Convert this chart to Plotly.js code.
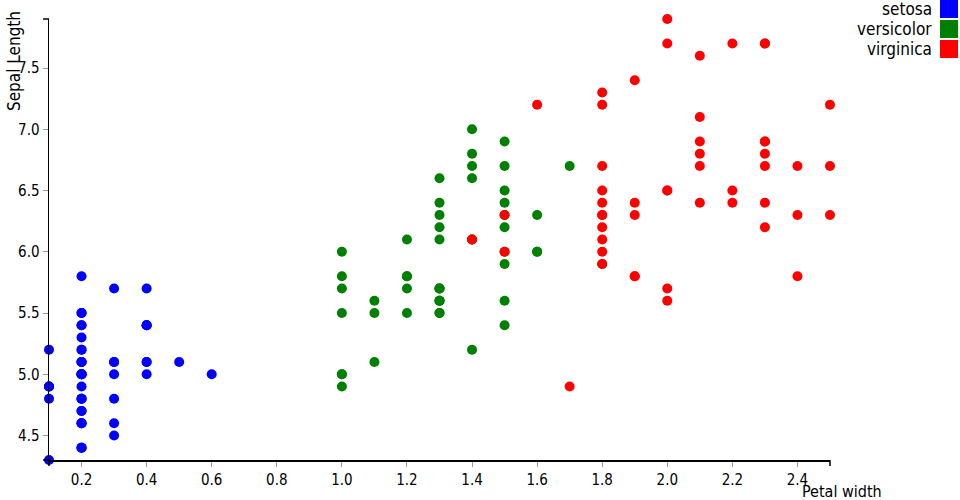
<!DOCTYPE html>
<html>
<head>
<meta charset="utf-8">
<script src="https://cdn.plot.ly/plotly-3.0.1.min.js"></script>
<style>html,body{margin:0;padding:0;background:#fff}#chart{width:960px;height:500px}</style>
</head>
<body>
<div id="chart"></div>
<script>
// Iris data: petal width (x) vs sepal length (y)
var species = ["setosa", "versicolor", "virginica"];
var speciesColors = ["#0000ff", "#008000", "#ff0000"];

var setosaPetalWidth = [0.2,0.2,0.2,0.2,0.2,0.4,0.3,0.2,0.2,0.1,0.2,0.2,0.1,0.1,0.2,0.4,0.4,0.3,0.3,0.3,0.2,0.4,0.2,0.5,0.2,0.2,0.4,0.2,0.2,0.2,0.2,0.4,0.1,0.2,0.1,0.2,0.2,0.1,0.2,0.2,0.3,0.3,0.2,0.6,0.4,0.3,0.2,0.2,0.2,0.2];
var setosaSepalLength = [5.1,4.9,4.7,4.6,5.0,5.4,4.6,5.0,4.4,4.9,5.4,4.8,4.8,4.3,5.8,5.7,5.4,5.1,5.7,5.1,5.4,5.1,4.6,5.1,4.8,5.0,5.0,5.2,5.2,4.7,4.8,5.4,5.2,5.5,4.9,5.0,5.5,4.9,4.4,5.1,5.0,4.5,4.4,5.0,5.1,4.8,5.1,4.6,5.3,5.0];

var versicolorPetalWidth = [1.4,1.5,1.5,1.3,1.5,1.3,1.6,1.0,1.3,1.4,1.0,1.5,1.0,1.4,1.3,1.4,1.5,1.0,1.5,1.1,1.8,1.3,1.5,1.2,1.3,1.4,1.4,1.7,1.5,1.0,1.1,1.0,1.2,1.6,1.5,1.6,1.5,1.3,1.3,1.3,1.2,1.4,1.2,1.0,1.3,1.2,1.3,1.3,1.1,1.3];
var versicolorSepalLength = [7.0,6.4,6.9,5.5,6.5,5.7,6.3,4.9,6.6,5.2,5.0,5.9,6.0,6.1,5.6,6.7,5.6,5.8,6.2,5.6,5.9,6.1,6.3,6.1,6.4,6.6,6.8,6.7,6.0,5.7,5.5,5.5,5.8,6.0,5.4,6.0,6.7,6.3,5.6,5.5,5.5,6.1,5.8,5.0,5.6,5.7,5.7,6.2,5.1,5.7];

var virginicaPetalWidth = [2.5,1.9,2.1,1.8,2.2,2.1,1.7,1.8,1.8,2.5,2.0,1.9,2.1,2.0,2.4,2.3,1.8,2.2,2.3,1.5,2.3,2.0,2.0,1.8,2.1,1.8,1.8,1.8,2.1,1.6,1.9,2.0,2.2,1.5,1.4,2.3,2.4,1.8,1.8,2.1,2.4,2.3,1.9,2.3,2.5,2.3,1.9,2.0,2.3,1.8];
var virginicaSepalLength = [6.3,5.8,7.1,6.3,6.5,7.6,4.9,7.3,6.7,7.2,6.5,6.4,6.8,5.7,5.8,6.4,6.5,7.7,7.7,6.0,6.9,5.6,7.7,6.3,6.7,7.2,6.2,6.1,6.4,7.2,7.4,7.9,6.4,6.3,6.1,7.7,6.3,6.4,6.0,6.9,6.7,6.9,5.8,6.8,6.7,6.7,6.3,6.5,6.2,5.9];

var xTitle = "Petal width";
var yTitle = "Sepal Length";

var xs = [setosaPetalWidth, versicolorPetalWidth, virginicaPetalWidth];
var ys = [setosaSepalLength, versicolorSepalLength, virginicaSepalLength];

var W = 960, H = 500;
var M = {l: 49, r: 130, t: 19, b: 40};
var PW = W - M.l - M.r, PH = H - M.t - M.b;
function px2x(px) { return (px - M.l) / PW; }
function px2y(py) { return (H - M.b - py) / PH; }

var FONT = "'DejaVu Sans Condensed', 'Liberation Sans Narrow', sans-serif";

var traces = species.map(function (s, i) {
  return {
    type: "scatter", mode: "markers", name: s,
    x: xs[i], y: ys[i], cliponaxis: false,
    marker: {color: speciesColors[i], size: 10, line: {width: 0}},
    hoverinfo: "x+y+name"
  };
});

var annotations = [
  {text: yTitle, xref: "paper", yref: "paper", x: px2x(14), y: px2y(9), xanchor: "center", yanchor: "top",
   textangle: -90, showarrow: false, font: {family: FONT, size: 17, color: "#000"}},
  {text: xTitle, xref: "paper", yref: "paper", x: px2x(800), y: px2y(491), xanchor: "left", yanchor: "middle",
   showarrow: false, font: {family: FONT, size: 16, color: "#000"}}
];
var shapes = [
  // axis outer tick stubs
  {type: "line", xref: "paper", yref: "paper", x0: px2x(43), x1: px2x(49), y0: 1, y1: 1, line: {color: "#000", width: 1.5}},
  {type: "line", xref: "paper", yref: "paper", x0: 1, x1: 1, y0: 0, y1: px2y(466), line: {color: "#000", width: 1.5}},
  {type: "line", xref: "paper", yref: "paper", x0: px2x(43), x1: 0, y0: 0, y1: 0, line: {color: "#000", width: 1.5}},
  {type: "line", xref: "paper", yref: "paper", x0: 0, x1: 0, y0: 0, y1: px2y(466), line: {color: "#000", width: 1.5}}
];
species.forEach(function (s, i) {
  var top = i * 20;
  annotations.push({text: s, xref: "paper", yref: "paper", x: px2x(934), y: px2y(top + 9),
    xanchor: "right", yanchor: "middle", showarrow: false, font: {family: FONT, size: 17, color: "#000"}});
  shapes.push({type: "rect", xref: "paper", yref: "paper", x0: px2x(940), x1: px2x(958),
    y0: px2y(top), y1: px2y(top + 18), fillcolor: speciesColors[i], line: {width: 0}});
});

var layout = {
  width: W, height: H,
  margin: M,
  paper_bgcolor: "#fff", plot_bgcolor: "#fff",
  showlegend: false,
  font: {family: FONT, size: 15, color: "#000"},
  xaxis: {range: [0.1, 2.5], tick0: 0, dtick: 0.2, tickformat: ".1f", showgrid: false, zeroline: false,
          showline: true, linecolor: "#000", linewidth: 1.5, ticks: "outside", ticklen: 5, tickcolor: "#999",
          tickfont: {family: FONT, size: 15, color: "#000"}},
  yaxis: {range: [4.3, 7.9], tick0: 0, dtick: 0.5, tickformat: ".1f", showgrid: false, zeroline: false,
          showline: true, linecolor: "#000", linewidth: 1.5, ticks: "outside", ticklen: 5, tickcolor: "#999",
          tickfont: {family: FONT, size: 15, color: "#000"}},
  annotations: annotations,
  shapes: shapes
};

Plotly.newPlot("chart", traces, layout, {displayModeBar: false, staticPlot: true});
</script>
</body>
</html>
